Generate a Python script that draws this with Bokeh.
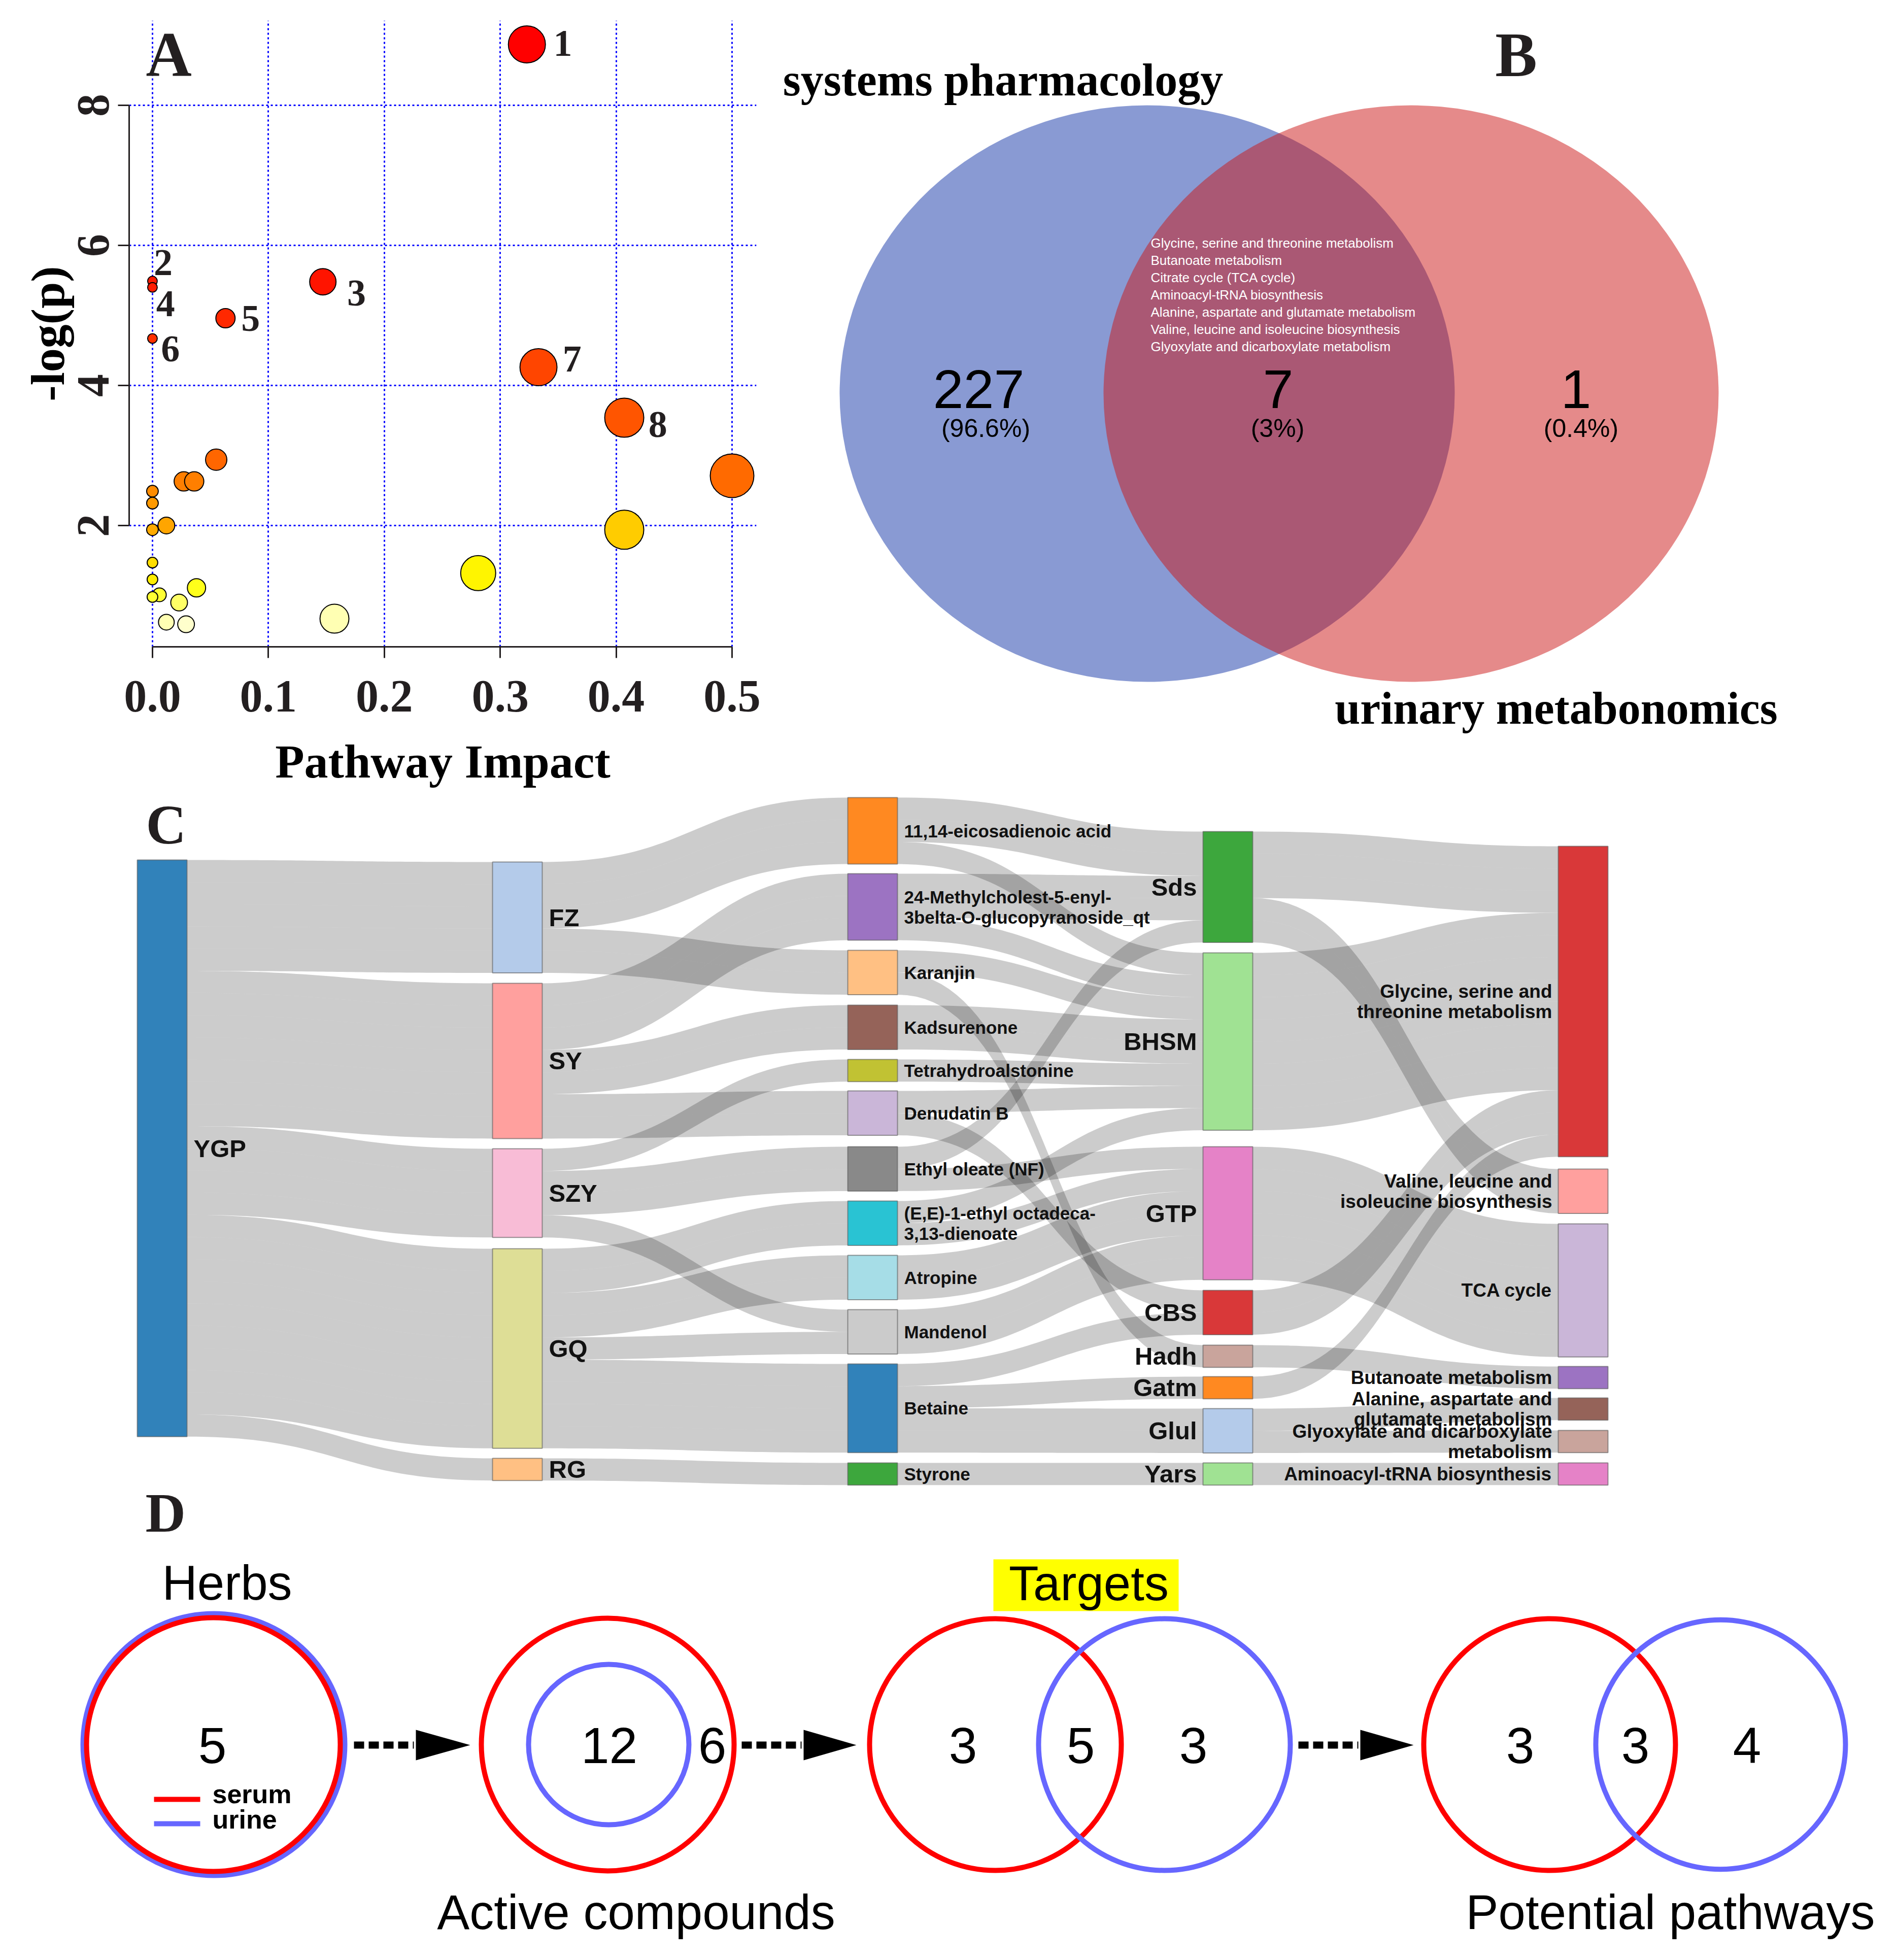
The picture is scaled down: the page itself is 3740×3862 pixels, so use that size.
import numpy as np
from bokeh.plotting import figure
from bokeh.layouts import column, row
from bokeh.models import Range1d, FixedTicker, PrintfTickFormatter, ColumnDataSource
from bokeh.core.properties import value
from bokeh.embed import file_html
from bokeh.resources import INLINE

SERIF = value("Liberation Serif")
SANS = value("Liberation Sans")
INK = "#231F20"

# ===================== Panel A data (pathway analysis) =====================
impact = [0.323, 0.0, 0.0, 0.147, 0.063, 0.0, 0.333, 0.407, 0.500, 0.055, 0.027, 0.036,
          0.0, 0.0, 0.012, 0.0, 0.407, 0.281, 0.0, 0.0, 0.006, 0.0, 0.038, 0.023, 0.012, 0.029, 0.157]
neglogp = [8.87, 5.49, 5.40, 5.48, 4.96, 4.67, 4.26, 3.54, 2.71, 2.94, 2.63, 2.63,
           2.49, 2.32, 2.00, 1.94, 1.94, 1.32, 1.47, 1.23, 1.01, 0.98, 1.11, 0.90, 0.62, 0.59, 0.67]
bubble_size = [73, 19, 19, 52, 38, 19, 73, 77, 86, 42, 38, 38,
               23, 23, 33, 23, 77, 69, 21, 21, 27, 21, 36, 33, 31, 33, 57]
bubble_color = ["#FF0000", "#FF1A00", "#FF1C00", "#FF1400", "#FF2800", "#FF3000", "#FF4500", "#FF5500",
                "#FF6A00", "#FF6600", "#FF7F00", "#FF7F00", "#FF8C00", "#FF9900", "#FFA500", "#FFAA00",
                "#FFCC00", "#FFF500", "#FFDD00", "#FFEE00", "#FFFF33", "#FFFF33", "#FFFF1A", "#FFFF66",
                "#FFFFB3", "#FFFFCC", "#FFFFB3"]
hit_label = ["1", "2", "3", "4", "5", "6", "7", "8"]
hit_x = [0.354, 0.0092, 0.176, 0.0113, 0.0846, 0.0155, 0.362, 0.436]
hit_y = [8.887, 5.75, 5.32, 5.17, 4.96, 4.52, 4.38, 3.44]
x_ticks = [0.0, 0.1, 0.2, 0.3, 0.4, 0.5]
y_ticks = [2, 4, 6, 8]

# ===================== Panel B data (Venn) =====================
venn_sets = ["systems pharmacology", "urinary metabonomics"]
venn_counts = ["227", "7", "1"]
venn_pct = ["(96.6%)", "(3%)", "(0.4%)"]
shared_pathways = ["Glycine, serine and threonine metabolism", "Butanoate metabolism",
                   "Citrate cycle (TCA cycle)", "Aminoacyl-tRNA biosynthesis",
                   "Alanine, aspartate and glutamate metabolism",
                   "Valine, leucine and isoleucine biosynthesis",
                   "Glyoxylate and dicarboxylate metabolism"]

# ===================== Panel C data (Sankey) =====================
node_key = ["YGP", "FZ", "SY", "SZY", "GQ", "RG",
            "C1114", "C24M", "Karanjin", "Kadsurenone", "Tetra", "Denudatin", "Ethyl", "EE",
            "Atropine", "Mandenol", "Betaine", "Styrone",
            "Sds", "BHSM", "GTP", "CBS", "Hadh", "Gatm", "Glul", "Yars",
            "Gly", "Val", "TCA", "But", "Ala", "Glyox", "Amino"]
node_label = ["YGP", "FZ", "SY", "SZY", "GQ", "RG",
              "11,14-eicosadienoic acid", "24-Methylcholest-5-enyl-\n3belta-O-glucopyranoside_qt",
              "Karanjin", "Kadsurenone", "Tetrahydroalstonine", "Denudatin B", "Ethyl oleate (NF)",
              "(E,E)-1-ethyl octadeca-\n3,13-dienoate", "Atropine", "Mandenol", "Betaine", "Styrone",
              "Sds", "BHSM", "GTP", "CBS", "Hadh", "Gatm", "Glul", "Yars",
              "Glycine, serine and\nthreonine metabolism", "Valine, leucine and\nisoleucine biosynthesis",
              "TCA cycle", "Butanoate metabolism", "Alanine, aspartate and\nglutamate metabolism",
              "Glyoxylate and dicarboxylate\nmetabolism", "Aminoacyl-tRNA biosynthesis"]
node_col = [0] + [1] * 5 + [2] * 12 + [3] * 8 + [4] * 7
node_color = ["#1f77b4", "#aec7e8", "#ff9896", "#f7b6d2", "#dbdb8d", "#ffbb78",
              "#ff7f0e", "#9467bd", "#ffbb78", "#8c564b", "#bcbd22", "#c5b0d5", "#7f7f7f", "#17becf",
              "#9edae5", "#c7c7c7", "#1f77b4", "#2ca02c",
              "#2ca02c", "#98df8a", "#e377c2", "#d62728", "#c49c94", "#ff7f0e", "#aec7e8", "#98df8a",
              "#d62728", "#ff9896", "#c5b0d5", "#9467bd", "#8c564b", "#c49c94", "#e377c2"]
link_source = ["YGP", "YGP", "YGP", "YGP", "YGP",
               "FZ", "FZ", "SY", "SY", "SY", "SZY", "SZY", "SZY", "GQ", "GQ", "GQ", "GQ", "RG",
               "C1114", "C1114", "C24M", "C24M", "Karanjin", "Karanjin", "Kadsurenone", "Tetra",
               "Denudatin", "Denudatin", "Ethyl", "Ethyl", "EE", "EE", "Atropine", "Mandenol",
               "Betaine", "Betaine", "Betaine", "Styrone",
               "Sds", "Sds", "BHSM", "GTP", "CBS", "Hadh", "Gatm", "Glul", "Glul", "Yars"]
link_target = ["FZ", "SY", "SZY", "GQ", "RG",
               "C1114", "Karanjin", "C24M", "Kadsurenone", "Denudatin", "Tetra", "Ethyl", "Mandenol",
               "EE", "Atropine", "Mandenol", "Betaine", "Styrone",
               "Sds", "BHSM", "Sds", "BHSM", "BHSM", "Hadh", "BHSM", "BHSM",
               "BHSM", "CBS", "Sds", "GTP", "BHSM", "GTP", "GTP", "GTP",
               "CBS", "Gatm", "Glul", "Yars",
               "Gly", "Val", "Gly", "TCA", "Gly", "But", "Gly", "Ala", "Glyox", "Amino"]
link_value = [5, 7, 4, 9, 1,
              3, 2, 3, 2, 2, 1, 2, 1, 2, 2, 1, 4, 1,
              2, 1, 2, 1, 1, 1, 2, 1,
              1, 1, 1, 1, 1, 1, 2, 2,
              1, 1, 2, 1,
              3, 2, 8, 6, 2, 1, 1, 1, 1, 1]

# ===================== Panel D data (summary) =====================
herb_count = ["5"]
compound_counts = ["12", "6"]
target_counts = ["3", "5", "3"]
pathway_counts = ["3", "3", "4"]
stage_titles = ["Herbs", "Active compounds", "Targets", "Potential pathways"]
legend_items = ["serum", "urine"]
set_colors = ["#FF0000", "#6666FF"]


def no_align(p):
    try:
        p.frame_align = False
    except Exception:
        pass
    return p


# ======================================================================
# Panel A
# ======================================================================
pA = figure(width=1500, height=1555, x_range=Range1d(-0.0201, 0.521), y_range=Range1d(0.268, 9.21),
            output_backend="svg", toolbar_location=None,
            min_border_left=254, min_border_right=10, min_border_top=40, min_border_bottom=281)
no_align(pA)
pA.outline_line_color = None
pA.background_fill_color = "white"
for g in (pA.xgrid[0], pA.ygrid[0]):
    g.grid_line_color = "#0000FF"
    g.grid_line_dash = "4 5"
    g.grid_line_width = 3
srcA = ColumnDataSource(dict(x=impact, y=neglogp, s=bubble_size, c=bubble_color))
pA.scatter("x", "y", size="s", fill_color="c", line_color="black", line_width=2, source=srcA)
pA.text(x=hit_x, y=hit_y, text=hit_label, text_font=SERIF, text_font_style="bold",
        text_font_size="74px", text_align="center", text_baseline="middle", text_color=INK)
pA.text(x=[-0.0057], y=[8.725], text=["A"], text_font=SERIF, text_font_style="bold",
        text_font_size="125px", text_align="left", text_baseline="middle", text_color=INK)

xa = pA.xaxis[0]
ya = pA.yaxis[0]
xa.ticker = FixedTicker(ticks=x_ticks)
xa.formatter = PrintfTickFormatter(format="%.1f")
xa.bounds = (0, 0.5)
xa.axis_label = "Pathway Impact"
ya.ticker = FixedTicker(ticks=y_ticks)
ya.formatter = PrintfTickFormatter(format="%d")
ya.bounds = (2, 8)
ya.axis_label = "-log(p)"
ya.major_label_orientation = "vertical"
for ax in (xa, ya):
    ax.axis_line_width = 3
    ax.axis_line_color = INK
    ax.major_tick_line_width = 3
    ax.major_tick_line_color = INK
    ax.major_tick_out = 22
    ax.major_tick_in = 0
    ax.minor_tick_line_color = None
    ax.major_label_text_font = "Liberation Serif"
    ax.major_label_text_font_style = "bold"
    ax.major_label_text_font_size = "90px"
    ax.major_label_text_color = INK
    ax.axis_label_text_font = "Liberation Serif"
    ax.axis_label_text_font_style = "bold"
    ax.axis_label_text_font_size = "94px"
    ax.axis_label_text_color = "black"
xa.major_label_standoff = 45
xa.axis_label_standoff = 43
ya.major_label_standoff = 18
ya.axis_label_standoff = 6

# ======================================================================
# Panel B
# ======================================================================
pB = figure(width=2224, height=1555, x_range=Range1d(1500, 3724), y_range=Range1d(1555, 0),
            x_axis_location=None, y_axis_location=None, output_backend="svg",
            toolbar_location=None, min_border=0)
no_align(pB)
pB.grid.visible = False
pB.outline_line_color = None
pB.ellipse(x=[2260, 2780], y=[775, 775], width=1212, height=1136,
           fill_color=["#1335A8", "#CB1515"], fill_alpha=0.5, line_color=None)
pB.text(x=[1976, 3066], y=[157, 1395], text=venn_sets, text_font=SERIF, text_font_style="bold",
        text_font_size="90px", text_align="center", text_baseline="middle", text_color="black")
pB.text(x=[2987], y=[108], text=["B"], text_font=SERIF, text_font_style="bold",
        text_font_size="124px", text_align="center", text_baseline="middle", text_color=INK)
pB.text(x=[1928, 2518, 3105], y=[766] * 3, text=venn_counts, text_font=SANS,
        text_font_size="108px", text_align="center", text_baseline="middle", text_color="black")
pB.text(x=[1942, 2517, 3115], y=[843] * 3, text=venn_pct, text_font=SANS,
        text_font_size="50px", text_align="center", text_baseline="middle", text_color="black")
pB.text(x=[2267] * len(shared_pathways), y=[478 + 34 * i for i in range(len(shared_pathways))],
        text=shared_pathways, text_font=SANS, text_font_size="26px", text_align="left",
        text_baseline="middle", text_color="white")

# ======================================================================
# Panel C  (x: column index, y: flow units, 1 unit = 43.7 px)
# ======================================================================
UNIT = 43.7
Y0 = 1567.0
C_TOP, C_BOT = 1555, 3055
node_top_px = [1694, 1698, 1937, 2263, 2460, 2873,
               1571, 1721, 1872, 1980, 2087, 2149, 2259, 2366, 2473, 2580, 2687, 2882,
               1638, 1877, 2259, 2542, 2650, 2712, 2775, 2882,
               1667, 2303, 2411, 2692, 2754, 2818, 2882]
NW = 98 / 700.0
idx = {k: i for i, k in enumerate(node_key)}
N = len(node_key)
top = [(v - Y0) / UNIT for v in node_top_px]

links = []
for s, t, v in zip(link_source, link_target, link_value):
    for _ in range(v):
        links.append((idx[s], idx[t]))
val_out = [0] * N
val_in = [0] * N
for s, t in links:
    val_out[s] += 1
    val_in[t] += 1
node_val = [max(a, b) for a, b in zip(val_out, val_in)]

sy = [0.0] * len(links)
ty = [0.0] * len(links)
for n in range(N):
    outs = sorted([i for i, (s, t) in enumerate(links) if s == n], key=lambda i: (top[links[i][1]], i))
    y = top[n]
    for i in outs:
        sy[i] = y
        y += 1
    ins = sorted([i for i, (s, t) in enumerate(links) if t == n], key=lambda i: (top[links[i][0]], i))
    y = top[n]
    for i in ins:
        ty[i] = y
        y += 1

tt = np.linspace(0, 1, 48)
b0 = (1 - tt) ** 3
b1 = 3 * (1 - tt) ** 2 * tt
b2 = 3 * (1 - tt) * tt ** 2
b3 = tt ** 3
xs, ys = [], []
for i, (s, t) in enumerate(links):
    x0 = node_col[s] + NW
    x1 = node_col[t]
    xm = 0.5 * (x0 + x1)
    bx = b0 * x0 + (b1 + b2) * xm + b3 * x1
    top_c = (b0 + b1) * sy[i] + (b2 + b3) * ty[i]
    bot_c = top_c + 1.0
    xs.append(np.concatenate([bx, bx[::-1]]).tolist())
    ys.append(np.concatenate([top_c, bot_c[::-1]]).tolist())

pC = figure(width=3724, height=C_BOT - C_TOP,
            x_range=Range1d((0 - 270) / 700.0, (3724 - 270) / 700.0),
            y_range=Range1d((C_BOT - Y0) / UNIT, (C_TOP - Y0) / UNIT),
            x_axis_location=None, y_axis_location=None, output_backend="svg",
            toolbar_location=None, min_border=0)
no_align(pC)
pC.grid.visible = False
pC.outline_line_color = None
pC.patches(xs, ys, fill_color="black", fill_alpha=0.2, line_color=None)
pC.quad(left=[float(c) for c in node_col], right=[c + NW for c in node_col],
        top=top, bottom=[a + b for a, b in zip(top, node_val)],
        fill_color=node_color, fill_alpha=0.92, line_color="#555555", line_alpha=0.6, line_width=2)

LINE = 40 / UNIT
for grp, fsize in ((0, "49px"), (2, "35px"), (4, "37px")):
    lx, ly, lt, la = [], [], [], []
    for n in range(N):
        c = node_col[n]
        g = 0 if c in (0, 1, 3) else c
        if g != grp:
            continue
        lines = node_label[n].split("\n")
        cy = top[n] + node_val[n] / 2.0
        for k, ln in enumerate(lines):
            lx.append(c + NW + 13 / 700.0 if c <= 2 else c - 12 / 700.0)
            ly.append(cy + (k - (len(lines) - 1) / 2.0) * LINE)
            lt.append(ln)
            la.append("left" if c <= 2 else "right")
    pC.text(x=lx, y=ly, text=lt, text_align=la, text_baseline="middle", text_font=SANS,
            text_font_style="bold", text_font_size=fsize, text_color="#111111")
# panel letters C and D
pC.text(x=[(287 - 270) / 700.0, (286 - 270) / 700.0], y=[(1624 - Y0) / UNIT, (2980 - Y0) / UNIT],
        text=["C", "D"], text_font=SERIF, text_font_style="bold", text_font_size="110px",
        text_align="left", text_baseline="middle", text_color=INK)

# ======================================================================
# Panel D
# ======================================================================
D_TOP = C_BOT
pD = figure(width=3724, height=3846 - D_TOP, x_range=Range1d(0, 3724), y_range=Range1d(3846, D_TOP),
            x_axis_location=None, y_axis_location=None, output_backend="svg",
            toolbar_location=None, min_border=0)
no_align(pD)
pD.grid.visible = False
pD.outline_line_color = None
CY = 3437
ring_x = [421, 420, 1197, 1199, 1961, 2294, 3053, 3390]
ring_r = [258, 250, 249, 158, 248, 248, 248, 246]
ring_c = [set_colors[1], set_colors[0], set_colors[0], set_colors[1],
          set_colors[0], set_colors[1], set_colors[0], set_colors[1]]
pD.ellipse(x=ring_x, y=[CY] * len(ring_x), width=[2 * r for r in ring_r],
           height=[2 * r for r in ring_r], fill_color=None, line_color=ring_c, line_width=10)
num_x = [418, 1200, 1403, 1897, 2129, 2351, 2995, 3222, 3442]
num_t = herb_count + compound_counts + target_counts + pathway_counts
pD.text(x=num_x, y=[3439] * len(num_x), text=num_t, text_font=SANS, text_font_size="100px",
        text_align="center", text_baseline="middle", text_color="black")
for xa0, xa1, xh in [(697, 815, 926), (1461, 1579, 1687), (2558, 2676, 2785)]:
    pD.line([xa0, xa1], [CY + 1, CY + 1], line_color="black", line_width=14, line_dash="20 9")
    pD.patch([xa1 + 4, xh, xa1 + 4], [CY - 29, CY + 1, CY + 31], fill_color="black", line_color=None)
pD.quad(left=[1957], right=[2322], top=[3072], bottom=[3174], fill_color="#FFFF00", line_color=None)
pD.text(x=[447, 1253, 2145, 3291], y=[3118, 3767, 3119, 3767], text=stage_titles, text_font=SANS,
        text_font_size="96px", text_align="center", text_baseline="middle", text_color="black")
pD.line([303, 394], [3545, 3545], line_color=set_colors[0], line_width=10)
pD.line([303, 394], [3593, 3593], line_color=set_colors[1], line_width=10)
pD.text(x=[418, 418], y=[3534, 3584], text=legend_items, text_font=SANS, text_font_style="bold",
        text_font_size="52px", text_align="left", text_baseline="middle", text_color="black")

layout = column(row(pA, pB), pC, pD)
open("out.html", "w").write(file_html(layout, INLINE))
